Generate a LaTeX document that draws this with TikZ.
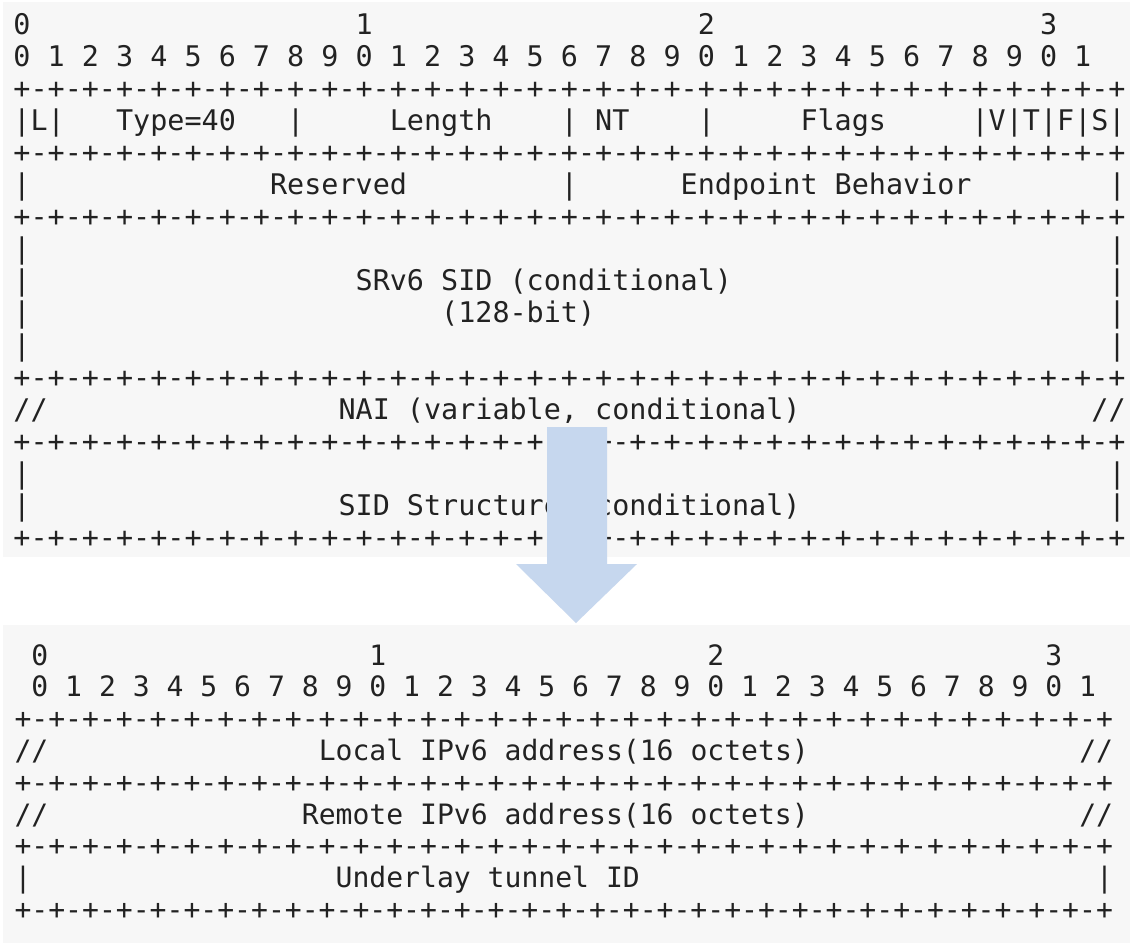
\documentclass[tikz,border=0pt]{standalone}
\usepackage{fontspec}
\newfontfamily\codefont{DejaVu Sans Mono}
\definecolor{panelgray}{HTML}{F7F7F7}
\definecolor{codeink}{HTML}{222222}
\definecolor{arrowblue}{HTML}{C6D7EE}
\tikzset{
  toprow/.style={anchor=base west, inner sep=0pt, outer sep=0pt, text=codeink,
    font={\codefont\fontsize{28.42pt}{32pt}\selectfont}},
  botrow/.style={anchor=base west, inner sep=0pt, outer sep=0pt, text=codeink,
    font={\codefont\fontsize{28.07pt}{32pt}\selectfont}},
  panel/.style={fill=panelgray, draw=none},
  bigarrow/.style={fill=arrowblue, draw=none}
}
% text cell at column #2, row #3 of the upper / lower listing
\newcommand\tcode[4]{\node[toprow] (#1) at ({13.45+17.11*#2},{34+32.1*#3}) {#4};}
\newcommand\bcode[4]{\node[botrow] (#1) at ({14.55+16.9*#2},{665+31.8*#3}) {#4};}
\newcommand\rulerline{+-+-+-+-+-+-+-+-+-+-+-+-+-+-+-+-+-+-+-+-+-+-+-+-+-+-+-+-+-+-+-+-+}
\newcommand\bitnums{0 1 2 3 4 5 6 7 8 9 0 1 2 3 4 5 6 7 8 9 0 1 2 3 4 5 6 7 8 9 0 1}
\frenchspacing
\begin{document}
\begin{tikzpicture}[x=1pt,y=-1pt]
\useasboundingbox (0,0) rectangle (1130,943);
\fill[white] (0,0) rectangle (1130,943);
\path[panel] (3,2) rectangle (1130,557);
\path[panel] (3,625) rectangle (1130,943);

% ---- SRv6-ERO subobject ----
\tcode{tz0}{0}{0}{0}
\tcode{tz1}{20}{0}{1}
\tcode{tz2}{40}{0}{2}
\tcode{tz3}{60}{0}{3}
\tcode{tbits}{0}{1}{\bitnums}
\tcode{tr1}{0}{2}{\rulerline}
\tcode{tL}{0}{3}{|L|}
\tcode{ttype}{6}{3}{Type=40}
\tcode{tsa}{16}{3}{|}
\tcode{tlen}{22}{3}{Length}
\tcode{tsb}{32}{3}{|}
\tcode{tnt}{34}{3}{NT}
\tcode{tsc}{40}{3}{|}
\tcode{tflags}{46}{3}{Flags}
\tcode{tvtfs}{56}{3}{|V|T|F|S|}
\tcode{tr2}{0}{4}{\rulerline}
\tcode{tres0}{0}{5}{|}
\tcode{tres}{15}{5}{Reserved}
\tcode{tres1}{32}{5}{|}
\tcode{tbeh}{39}{5}{Endpoint Behavior}
\tcode{tres2}{64}{5}{|}
\tcode{tr3}{0}{6}{\rulerline}
\tcode{ts1a}{0}{7}{|}
\tcode{ts1b}{64}{7}{|}
\tcode{ts2a}{0}{8}{|}
\tcode{tsid}{20}{8}{SRv6 SID (conditional)}
\tcode{ts2b}{64}{8}{|}
\tcode{ts3a}{0}{9}{|}
\tcode{tbits128}{25}{9}{(128-bit)}
\tcode{ts3b}{64}{9}{|}
\tcode{ts4a}{0}{10}{|}
\tcode{ts4b}{64}{10}{|}
\tcode{tr4}{0}{11}{\rulerline}
\tcode{tnaia}{0}{12}{//}
\tcode{tnai}{19}{12}{NAI (variable, conditional)}
\tcode{tnaib}{63}{12}{//}
\tcode{tr5}{0}{13}{\rulerline}
\tcode{tst1a}{0}{14}{|}
\tcode{tst1b}{64}{14}{|}
\tcode{tst2a}{0}{15}{|}
\tcode{tstruct}{19}{15}{SID Structure (conditional)}
\tcode{tst2b}{64}{15}{|}
\tcode{tr6}{0}{16}{\rulerline}

% ---- tunnel fields ----
\bcode{bz0}{1}{0}{0}
\bcode{bz1}{21}{0}{1}
\bcode{bz2}{41}{0}{2}
\bcode{bz3}{61}{0}{3}
\bcode{bbits}{1}{1}{\bitnums}
\bcode{br1}{0}{2}{\rulerline}
\bcode{bloca}{0}{3}{//}
\bcode{bloc}{18}{3}{Local IPv6 address(16 octets)}
\bcode{blocb}{63}{3}{//}
\bcode{br2}{0}{4}{\rulerline}
\bcode{brema}{0}{5}{//}
\bcode{brem}{17}{5}{Remote IPv6 address(16 octets)}
\bcode{bremb}{63}{5}{//}
\bcode{br3}{0}{6}{\rulerline}
\bcode{bula}{0}{7}{|}
\bcode{bul}{19}{7}{Underlay tunnel ID}
\bcode{bulb}{64}{7}{|}
\bcode{br4}{0}{8}{\rulerline}

% ---- downward arrow ----
\path[bigarrow] (547,427) -- (607,427) -- (607,564) -- (637,564)
  -- (576,623) -- (516,564) -- (547,564) -- cycle;
\end{tikzpicture}
\end{document}
